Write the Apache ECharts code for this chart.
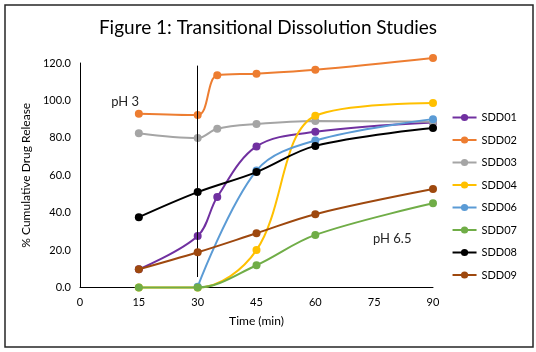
<!DOCTYPE html>
<html><head><meta charset="utf-8">
<script src="https://cdn.jsdelivr.net/npm/echarts@6/dist/echarts.min.js"></script>
<style>html,body{margin:0;padding:0;background:#fff}#c{width:536px;height:352px}</style>
</head><body><div id="c"></div>
<script>
const seriesNames = ['SDD01','SDD02','SDD03','SDD04','SDD06','SDD07','SDD08','SDD09'];
const colors = ['#7030A0','#ED7D31','#A5A5A5','#FFC000','#5B9BD5','#70AD47','#000000','#9E480E'];
const SDD01 = [[15,9.7],[30,27.5],[35,48.4],[45,75.4],[60,83.2],[90,88.2]];
const SDD02 = [[15,92.9],[30,92.2],[35,113.4],[45,114.3],[60,116.4],[90,122.7]];
const SDD03 = [[15,82.5],[30,79.9],[35,84.9],[45,87.4],[60,89.0],[90,88.6]];
const SDD04 = [[15,0],[30,0],[45,20.0],[60,91.8],[90,98.6]];
const SDD06 = [[30,0.4],[45,62.5],[60,78.6],[90,90.0]];
const SDD07 = [[15,0],[30,0],[45,11.9],[60,28.1],[90,45.0]];
const SDD08 = [[15,37.6],[30,51.0],[45,61.7],[60,75.7],[90,85.2]];
const SDD09 = [[15,9.7],[30,18.8],[45,29.0],[60,39.2],[90,52.6]];
const allData = [SDD01,SDD02,SDD03,SDD04,SDD06,SDD07,SDD08,SDD09];
const xTicks = [0,15,30,45,60,75,90];
const phLine = [[30,5.6],[30,118.6]];
const phLabels = [{text:'pH 3', x:11.5, y:99}, {text:'pH 6.5', x:79.6, y:26}];

const font = 'Lato, "Open Sans", sans-serif';
const chart = echarts.init(document.getElementById('c'));
const series = seriesNames.map((n,i)=>({
  name:n, type:'line', data:allData[i], smooth:0.35, clip:false,
  symbol:'circle', symbolSize:8, showSymbol:true,
  lineStyle:{width:2, color:colors[i]}, itemStyle:{color:colors[i]},
  emphasis:{disabled:true}, z:2+i
}));
series.push({
  type:'line', name:'_ph', data:[], silent:true,
  markLine:{symbol:['none','none'], silent:true, label:{show:false},
    lineStyle:{color:'#000', width:1, type:'solid'},
    data:[[{coord:phLine[0]},{coord:phLine[1]}]]},
  markPoint:{symbol:'rect', symbolSize:1, itemStyle:{color:'rgba(0,0,0,0)'},
    label:{show:true, color:'#262626', fontSize:13, fontFamily:font, position:'inside'},
    data:phLabels.map(p=>({coord:[p.x,p.y], value:p.text, label:{formatter:p.text}}))}
});
chart.setOption({
  animation:false,
  backgroundColor:'#fff',
  title:{text:'Figure 1: Transitional Dissolution Studies', left:'center', top:13,
    textStyle:{fontFamily:font, fontSize:19, fontWeight:'normal', color:'#000'}},
  grid:{left:80, right:103, top:63, bottom:64.5},
  legend:{orient:'vertical', right:14, top:107, itemGap:11.5, itemWidth:24, itemHeight:9,
    data:seriesNames, textStyle:{fontFamily:font, fontSize:11, color:'#000'}},
  xAxis:{type:'value', min:0, max:90, interval:15, name:'Time (min)', nameLocation:'middle', nameGap:28,
    nameTextStyle:{fontFamily:font, fontSize:12, color:'#000'},
    axisLine:{show:true, lineStyle:{color:'#000', width:1}}, axisTick:{show:false}, splitLine:{show:false},
    axisLabel:{fontFamily:font, fontSize:11, color:'#000', margin:9}},
  yAxis:{type:'value', min:0, max:120, interval:20, name:'% Cumulative Drug Release', nameLocation:'middle', nameGap:41,
    nameTextStyle:{fontFamily:font, fontSize:12, color:'#000'},
    axisLine:{show:true, lineStyle:{color:'#000', width:1}}, axisTick:{show:false}, splitLine:{show:false},
    axisLabel:{fontFamily:font, fontSize:11, color:'#000', margin:9, formatter:v=>v.toFixed(1)}},
  graphic:[{type:'rect', shape:{x:5,y:5,width:528,height:342}, style:{fill:'none', stroke:'#262626', lineWidth:1.5}, silent:true}],
  series
});
</script></body></html>
